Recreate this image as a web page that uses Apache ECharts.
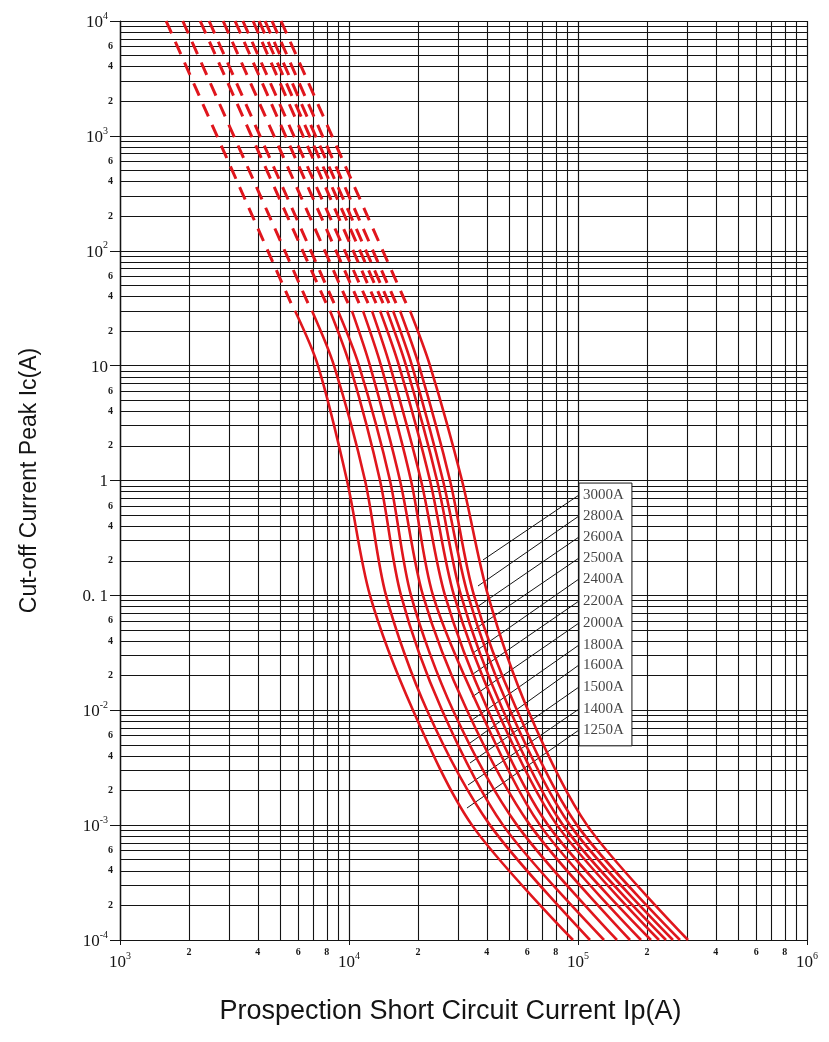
<!DOCTYPE html>
<html>
<head>
<meta charset="utf-8">
<title>Cut-off current peak</title>
<script src="https://cdn.jsdelivr.net/npm/echarts@6/dist/echarts.min.js"></script>
<style>
    html, body { margin: 0; padding: 0; background: #fff; }
    #chart { width: 829px; height: 1042px; }
</style>
</head>
<body>
<div id="chart"></div>
<script>
// fuse ratings, left to right on the chart
var ratings = ['1250A', '1400A', '1500A', '1600A', '1800A', '2000A', '2200A', '2400A', '2500A', '2600A', '2800A', '3000A'];

// dashed part of each curve: a straight run from Ic = 10^4 down to Ic = 35
var dashIc = [10000, 35];
var dashTopIp = [1590, 1880, 2240, 2450, 2820, 3180, 3440, 3810, 4050, 4300, 4610, 5050];
var dashEndIp = [5580, 6620, 7940, 8600, 9900, 11060, 12110, 13120, 14080, 14950, 16040, 17740];

var solidIc = [30, 10, 1, 0.1, 0.01, 0.001, 0.0001];
var solidIp = [
    [5810, 7320, 9800, 12350, 19030, 34440, 95100],
    [6890, 8600, 11750, 14510, 21910, 41280, 112800],
    [8260, 10100, 13660, 16870, 25480, 47040, 129900],
    [8950, 11060, 15100, 18650, 28450, 54150, 148000],
    [10300, 12350, 16700, 21040, 32750, 61720, 168700],
    [11510, 13800, 18650, 23270, 37330, 68240, 188400],
    [12600, 15100, 20630, 26250, 40460, 73960, 208300],
    [13660, 16530, 22580, 28740, 44290, 80970, 225800],
    [14650, 17740, 24230, 30840, 47040, 86000, 242300],
    [15570, 18840, 25730, 33090, 50470, 92270, 259900],
    [16700, 20220, 27610, 35140, 54150, 99000, 278900],
    [18470, 22580, 31150, 40460, 60490, 109500, 302200]
];

// leader lines: from a point on the curve to the label box
var leaderIp = [32750, 33090, 33760, 33760, 34440, 34440, 34790, 34790, 35500, 36220, 36590, 38470];
var leaderIc = [0.001409, 0.002235, 0.003474, 0.005187, 0.008226, 0.01304, 0.02068, 0.0315, 0.05096, 0.07922, 0.1207, 0.2033];
var labelIp = 101000;
var labelIc = [0.006731, 0.01025, 0.01594, 0.02477, 0.03698, 0.05748, 0.08934, 0.1389, 0.2115, 0.3223, 0.4909, 0.7475];
var boxIp = [101000, 172000];
var boxIc = [0.0049, 0.95];

// log grid and tick labels
var gridSteps = [2, 3, 4, 5, 6, 7, 8, 9];
var xDecades = [1e3, 1e4, 1e5];
var yDecades = [1e-4, 1e-3, 1e-2, 1e-1, 1, 10, 100, 1000];
var xMinorLabels = [2, 4, 6, 8];
var yMinorLabels = [2, 4, 6];

var RED = '#e0161d';
var INK = '#141414';
var SERIF = 'Liberation Serif';
var SANS = 'Liberation Sans';

var chart = echarts.init(document.getElementById('chart'));

function decadeLabel(v) {
    var e = Math.round(Math.log10(v));
    if (e === 1) return '{b|10}';
    if (e === 0) return '{b|1}';
    if (e === -1) return '{b|0. 1}';
    return '{b|10}{s|' + e + '}';
}

var richLabel = {
    b: { fontFamily: SERIF, fontSize: 17, color: INK, lineHeight: 20, verticalAlign: 'bottom' },
    s: { fontFamily: SERIF, fontSize: 10, color: INK, lineHeight: 11, verticalAlign: 'top' }
};

// minor grid lines (2..9 of each decade), some carry a small label
function minorLines(decades, key, labelled) {
    var list = [];
    decades.forEach(function (d) {
        gridSteps.forEach(function (k) {
            var item = {};
            item[key] = +(k * d).toPrecision(6);
            if (labelled.indexOf(k) >= 0) {
                item.label = { show: true, formatter: String(k) };
            }
            list.push(item);
        });
    });
    return list;
}

var series = [];

series.push({
    type: 'line',
    data: [],
    z: 1,
    silent: true,
    markLine: {
        silent: true,
        z: 1,
        precision: 10,   // default of 2 rounds 0.002 away
        symbol: ['none', 'none'],
        animation: false,
        lineStyle: { color: INK, width: 1.1, type: 'solid' },
        label: { show: false, position: 'start', distance: 7, fontFamily: SERIF, fontSize: 10, fontWeight: 'bold', color: INK },
        emphasis: { disabled: true },
        data: minorLines(xDecades, 'xAxis', xMinorLabels).concat(minorLines(yDecades, 'yAxis', yMinorLabels))
    }
});

// label box and leader lines
var leaders = ratings.map(function (r, i) {
    return [{ coord: [leaderIp[i], leaderIc[i]] }, { coord: [labelIp, labelIc[i]] }];
});
series.push({
    type: 'line',
    data: [],
    silent: true,
    markArea: {
        silent: true,
        z: 2,
        itemStyle: { color: '#fff', borderColor: INK, borderWidth: 1 },
        data: [[{ coord: [boxIp[0], boxIc[1]] }, { coord: [boxIp[1], boxIc[0]] }]]
    },
    markLine: {
        silent: true,
        z: 3,
        precision: 10,
        symbol: ['none', 'none'],
        lineStyle: { color: INK, width: 1, type: 'solid' },
        label: { show: false },
        emphasis: { disabled: true },
        data: leaders
    }
});

ratings.forEach(function (r, i) {
    series.push({
        name: r + ' dash',
        type: 'line',
        z: 4,
        symbol: 'none',
        silent: true,
        // 14 dashes from the top edge, the last one ending where the line ends
        lineStyle: { color: RED, width: 3, type: [13.6, 9.1] },
        data: [[dashTopIp[i], dashIc[0]], [dashEndIp[i], dashIc[1]]]
    });
    series.push({
        name: r,
        type: 'line',
        z: 4,
        symbol: 'none',
        smooth: 0.3,
        silent: true,
        lineStyle: { color: RED, width: 2.6 },
        data: solidIp[i].map(function (ip, j) { return [ip, solidIc[j]]; })
    });
});

series.push({
    type: 'scatter',
    z: 5,
    symbolSize: 0,
    silent: true,
    label: {
        show: true,
        position: 'right',
        distance: 4,
        fontFamily: SERIF,
        fontSize: 15,
        color: INK,
        formatter: function (p) { return ratings[p.dataIndex]; }
    },
    data: labelIc.map(function (ic) { return [labelIp, ic]; })
});

var option = {
    backgroundColor: '#fff',
    animation: false,
    grid: { left: 120, top: 21, width: 687, height: 919 },
    xAxis: {
        type: 'log',
        logBase: 10,
        min: 1000,
        max: 1000000,
        splitNumber: 3,
        name: 'Prospection Short Circuit Current Ip(A)',
        nameLocation: 'middle',
        nameGap: 58,
        nameTextStyle: { fontFamily: SANS, fontSize: 27, color: INK, padding: [0, 26, 0, 0] },
        axisLine: { lineStyle: { color: INK, width: 1.2 } },
        axisTick: { show: true, length: 5, lineStyle: { color: INK } },
        splitLine: { show: true, lineStyle: { color: INK, width: 1.2 } },
        axisLabel: { margin: 11, formatter: decadeLabel, rich: richLabel, hideOverlap: false }
    },
    yAxis: {
        type: 'log',
        logBase: 10,
        min: 0.0001,
        max: 10000,
        splitNumber: 8,
        name: 'Cut-off Current Peak Ic(A)',
        nameLocation: 'middle',
        nameGap: 79,
        nameTextStyle: { fontFamily: SANS, fontSize: 23, color: INK },
        axisLine: { lineStyle: { color: INK, width: 1.2 } },
        axisTick: { show: true, length: 10, lineStyle: { color: INK } },
        splitLine: { show: true, lineStyle: { color: INK, width: 1.2 } },
        axisLabel: { margin: 12, formatter: decadeLabel, rich: richLabel, hideOverlap: false }
    },
    series: series
};

chart.setOption(option);
</script>
</body>
</html>
